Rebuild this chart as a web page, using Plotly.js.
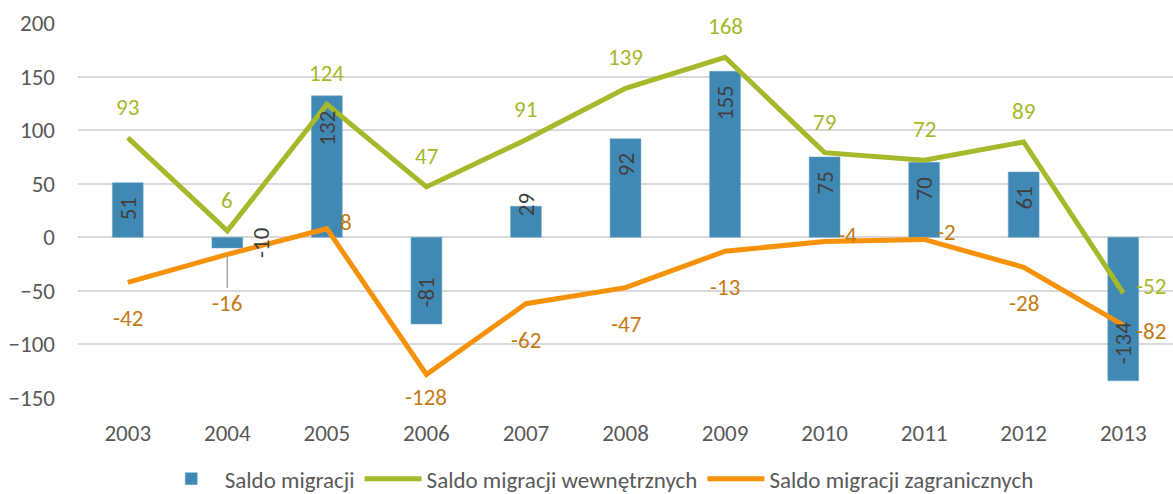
<!DOCTYPE html>
<html><head><meta charset="utf-8">
<script src="https://cdn.plot.ly/plotly-3.0.1.min.js"></script>
<style>html,body{margin:0;padding:0;background:#fff;}#chart{width:1173px;height:494px;}</style>
</head><body><div id="chart"></div>
<script>
const years = ['2003','2004','2005','2006','2007','2008','2009','2010','2011','2012','2013'];
const saldoMigracji = [51, -10, 132, -81, 29, 92, 155, 75, 70, 61, -134];
const saldoWewn = [93, 6, 124, 47, 91, 139, 168, 79, 72, 89, -52];
const saldoZagr = [-42, -16, 8, -128, -62, -47, -13, -4, -2, -28, -82];
const seriesNames = ['Saldo migracji', 'Saldo migracji wewnętrznych', 'Saldo migracji zagranicznych'];

// label placement (style only)
const barPos  = ['end','side','end','end','edge','end','end','end','end','end','end'];
const wewnPos = ['above','above','above','above','above','above','above','above','above','above','right'];
const zagrPos = ['below','leader','right','belowTight','below','below','below','right','right','below','rightLow'];

const FONT = 'Carlito, Calibri, Lato, sans-serif';
const FS = 23;
const BLUE = '#4189b5', GREEN = '#a5b92a', ORANGE = '#f79208';
const GREEN_T = '#a5b92a', ORANGE_T = '#c47a12', GREY_T = '#404040';

const traces = [
  {type:'bar', x: years, y: saldoMigracji, name: seriesNames[0],
   marker:{color: BLUE, line:{color:'#6fa6c9', width:0.5}}, width: 0.31},
  {type:'scatter', mode:'lines', x: years, y: saldoWewn, name: seriesNames[1], line:{color: GREEN, width:5}},
  {type:'scatter', mode:'lines', x: years, y: saldoZagr, name: seriesNames[2], line:{color: ORANGE, width:5}}
];

const annotations = [];
function base(i, v, color, angle) {
  return {xref:'x', yref:'y', x: i, y: v, text: String(v), showarrow: false, textangle: angle || 0,
          font:{family: FONT, size: FS, color: color}};
}
// bar labels (rotated)
saldoMigracji.forEach((v, i) => {
  const a = base(i, v, GREY_T, -90);
  const s = String(v);
  const half = s.length * FS * 0.26;
  const sign = v >= 0 ? 1 : -1;
  if (barPos[i] === 'end') {
    a.yshift = -sign * (14 + half);
  } else if (barPos[i] === 'edge') {
    a.yshift = sign * 2;
  } else if (barPos[i] === 'side') {
    a.y = v / 2; a.xshift = 33;
  }
  annotations.push(a);
});
function addLabels(vals, pos, color) {
  vals.forEach((v, i) => {
    const a = base(i, v, color);
    if (pos[i] === 'above') { a.yshift = 31; }
    else if (pos[i] === 'below') { a.yshift = -36; }
    else if (pos[i] === 'belowTight') { a.yshift = -23; }
    else if (pos[i] === 'right') { a.xanchor = 'left'; a.xshift = 11; a.yshift = 7; }
    else if (pos[i] === 'rightLow') { a.xanchor = 'left'; a.xshift = 11; a.yshift = -6; }
    else if (pos[i] === 'leader') {
      a.showarrow = true; a.arrowhead = 0; a.ax = 0; a.ay = 49; a.arrowcolor = '#a6a6a6';
      a.arrowwidth = 1.5; a.standoff = 1;
    }
    annotations.push(a);
  });
}
addLabels(saldoWewn, wewnPos, GREEN_T);
addLabels(saldoZagr, zagrPos, ORANGE_T);

const layout = {
  width: 1173, height: 494,
  margin: {l: 78, r: 0, t: 23, b: 96, autoexpand: false},
  paper_bgcolor:'#fff', plot_bgcolor:'#fff',
  font:{family: FONT, color:'#595959', size: FS},
  showlegend: true,
  legend:{orientation:'h', xref:'container', x: 0.51, xanchor:'center', yref:'container', y: 0.031, yanchor:'middle',
    font:{family: FONT, size: 23, color:'#595959'}, itemwidth: 57, traceorder:'normal'},
  xaxis:{type:'category', range:[-0.5, 10.5], showgrid:false, showline:false, ticks:'', automargin:false,
    tickfont:{family: FONT, size: FS, color:'#595959'}, ticklabelstandoff: 19, fixedrange:true},
  yaxis:{range:[-150, 200], dtick: 50, tick0: 0, showgrid:true, gridcolor:'#d9d9d9', gridwidth:2, automargin:false,
    zeroline:true, zerolinecolor:'#d9d9d9', zerolinewidth:2, showline:false, ticks:'',
    tickfont:{family: FONT, size: FS, color:'#595959'}, ticklabelstandoff: 22, fixedrange:true},
  annotations: annotations
};

try {
  Plotly.newPlot('chart', traces, layout, {displayModeBar:false, staticPlot:true})
    .catch(e => { document.body.insertAdjacentText('beforeend', 'ERR ' + e); });
} catch (e) {
  document.body.insertAdjacentText('beforeend', 'ERR ' + e);
}
</script></body></html>
